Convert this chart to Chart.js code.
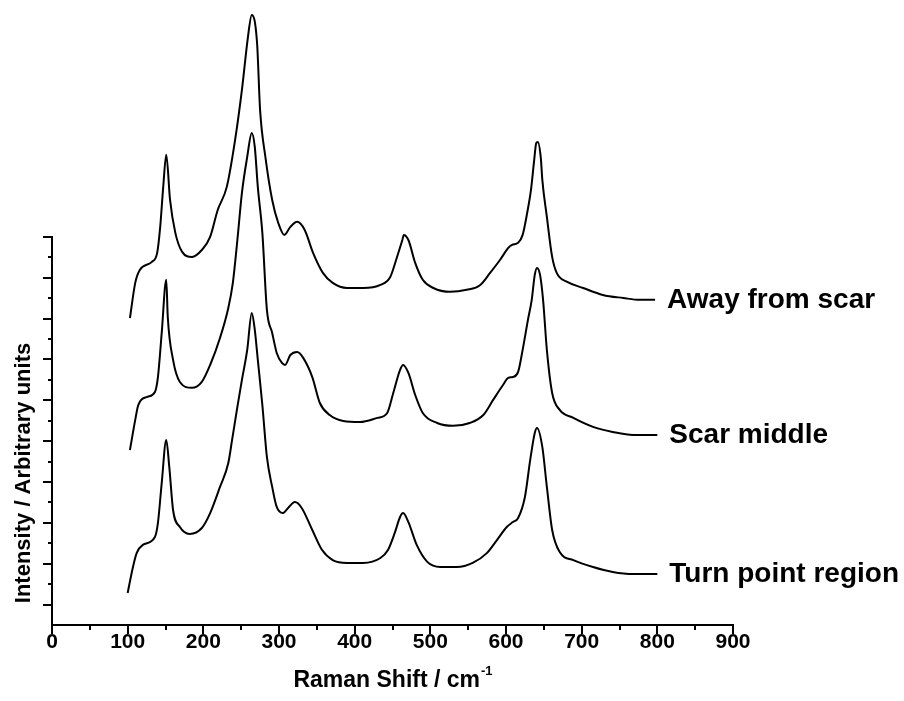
<!DOCTYPE html>
<html>
<head>
<meta charset="utf-8">
<script src="https://cdn.jsdelivr.net/npm/chart.js@4.4.1/dist/chart.umd.min.js"></script>
<style>
  html, body { margin: 0; padding: 0; background: #fff; }
  #wrap { width: 904px; height: 701px; }
</style>
</head>
<body>
<div id="wrap"><canvas id="c" width="904" height="701"></canvas></div>
<script>
// Raman shift (cm-1) and intensity (arbitrary units, stacked) for each spectrum
const awayX = [103,110,116,132,139,143,147,151,156,163,172,185,198,209,219,231,242,251,259,264,271,275,282,291,299,307,315,324,334,345,358,371,390,411,434,447,456,463,465,471,480,490,504,526,548,566,579,592,603,608,616,622,628,633,637,640,642,646,648,654,661,667,681,702,728,755,777,797];
const awayY = [15.03,16.75,17.38,17.78,18.22,19.49,21.45,23.02,20.81,19.20,18.27,18.02,18.36,19.00,20.32,21.45,23.75,26.20,28.80,29.87,28.50,25.22,22.92,20.81,19.69,19.10,19.49,19.74,19.34,18.22,17.24,16.75,16.50,16.50,16.65,17.04,18.02,18.85,19.10,18.85,17.73,16.90,16.50,16.31,16.41,16.65,17.24,17.87,18.46,18.61,18.71,19.10,20.18,21.30,22.67,23.60,23.65,22.87,21.79,19.98,18.02,17.24,16.80,16.50,16.16,16.01,15.92,15.92];

const middleX = [103,110,114,126,136,140,145,151,153,160,169,185,198,209,222,233,239,245,251,258,264,268,272,278,284,291,297,304,308,315,324,332,344,354,367,385,407,430,443,451,460,464,471,480,490,509,530,552,570,583,596,603,609,616,622,629,634,638,641,645,649,654,661,671,689,715,741,768,800];
const middleY = [8.57,10.04,10.77,11.17,11.41,12.14,14.30,16.90,15.08,12.98,11.90,11.61,11.90,12.73,14.05,15.52,16.75,18.85,21.16,22.92,24.09,23.41,21.45,19.20,15.43,14.30,13.32,12.83,12.73,13.22,13.37,13.08,12.14,10.87,10.28,9.99,9.94,10.14,10.38,11.36,12.49,12.73,12.34,11.26,10.38,9.89,9.75,9.89,10.28,11.02,11.75,12.10,12.14,12.39,13.47,14.94,15.92,17.14,17.48,17.14,15.92,13.47,11.36,10.53,10.14,9.70,9.45,9.30,9.30];

const turnX = [100,107,112,120,136,140,145,151,155,160,169,182,198,209,222,233,238,245,251,258,264,268,272,278,284,291,297,305,312,321,330,344,357,371,390,411,434,444,453,460,464,471,482,496,513,535,556,575,588,601,609,616,625,632,638,641,648,654,661,671,689,715,741,768,800];
const turnY = [1.57,2.84,3.53,3.92,4.31,5.00,6.95,9.06,7.74,5.63,4.80,4.46,4.75,5.48,6.76,7.93,9.06,10.68,12.00,13.47,15.28,14.45,12.98,10.77,8.23,6.76,5.78,5.48,5.73,6.02,5.73,4.65,3.67,3.18,3.04,3.04,3.28,3.67,4.51,5.29,5.48,5.04,3.92,3.09,2.84,2.84,3.04,3.53,4.16,4.80,5.04,5.24,6.27,8.08,9.40,9.65,8.72,6.76,4.65,3.57,3.18,2.84,2.60,2.50,2.50];

const seriesNames = ['Away from scar', 'Scar middle', 'Turn point region'];
const xTickValues = [0, 100, 200, 300, 400, 500, 600, 700, 800, 900];
const xMinorTicks = [50, 150, 250, 350, 450, 550, 650, 750, 850];
const yTickValues = [0,1,2,3,4,5,6,7,8,9,10,11,12,13,14,15,16,17,18,19];
const xTitle = 'Raman Shift / cm';
const xTitleSup = '-1';
const yTitle = 'Intensity / Arbitrary units';

const FONT = '"Liberation Sans", Arial, Helvetica, sans-serif';

function pairs(xs, ys) { return xs.map((v, i) => ({ x: v, y: ys[i] })); }

// Axis line, tick marks, axis titles and the series names at the end of each trace
const spectraFrame = {
  id: 'spectraFrame',
  afterDraw(chart) {
    const { ctx, scales: { x, y } } = chart;
    const x0 = x.getPixelForValue(0);
    const yBottom = y.getPixelForValue(0);
    ctx.save();
    ctx.strokeStyle = '#000';
    ctx.lineWidth = 2;
    ctx.beginPath();
    ctx.moveTo(x0, yBottom + 1);
    ctx.lineTo(x0, y.getPixelForValue(yTickValues[yTickValues.length - 1]) - 1);
    yTickValues.forEach(v => {
      if (v === 0) return;
      const py = Math.round(y.getPixelForValue(v));
      const len = v % 2 ? 9 : 4;
      ctx.moveTo(x0 - len, py);
      ctx.lineTo(x0, py);
    });
    xMinorTicks.forEach(v => {
      const px = Math.round(x.getPixelForValue(v));
      ctx.moveTo(px, yBottom);
      ctx.lineTo(px, yBottom + 5);
    });
    ctx.stroke();

    ctx.fillStyle = '#000';
    // x-axis title with superscript
    ctx.font = 'bold 23px ' + FONT;
    const mainW = ctx.measureText(xTitle).width;
    ctx.font = 'bold 13px ' + FONT;
    const supW = ctx.measureText(xTitleSup).width;
    const cx = (x.left + x.right) / 2;
    const startX = cx - (mainW + supW) / 2;
    ctx.textBaseline = 'alphabetic';
    ctx.textAlign = 'left';
    ctx.font = 'bold 23px ' + FONT;
    ctx.fillText(xTitle, startX, 687);
    ctx.font = 'bold 13px ' + FONT;
    ctx.fillText(xTitleSup, startX + mainW + 1, 675);

    // y-axis title
    ctx.save();
    ctx.translate(24, 473);
    ctx.rotate(-Math.PI / 2);
    ctx.font = 'bold 22px ' + FONT;
    ctx.textAlign = 'center';
    ctx.textBaseline = 'middle';
    ctx.fillText(yTitle, 0, 0);
    ctx.restore();

    // series names beside the last point of each trace
    ctx.font = 'bold 28px ' + FONT;
    ctx.textAlign = 'left';
    ctx.textBaseline = 'middle';
    chart.data.datasets.forEach((ds, i) => {
      const pts = chart.getDatasetMeta(i).data;
      const last = pts[pts.length - 1];
      ctx.fillText(seriesNames[i], last.x + 12, last.y);
    });
    ctx.restore();
  }
};

const lineStyle = {
  borderColor: '#000',
  borderWidth: 2,
  pointRadius: 0,
  fill: false,
  cubicInterpolationMode: 'monotone'
};

new Chart(document.getElementById('c'), {
  type: 'line',
  data: {
    datasets: [
      { label: seriesNames[0], data: pairs(awayX, awayY), ...lineStyle },
      { label: seriesNames[1], data: pairs(middleX, middleY), ...lineStyle },
      { label: seriesNames[2], data: pairs(turnX, turnY), ...lineStyle }
    ]
  },
  options: {
    responsive: false,
    animation: false,
    events: [],
    layout: { padding: { left: 52, right: 171, top: 0, bottom: 0 } },
    plugins: { legend: { display: false }, tooltip: { enabled: false } },
    scales: {
      x: {
        type: 'linear',
        min: 0,
        max: 900,
        afterBuildTicks: s => { s.ticks = xTickValues.map(v => ({ value: v })); },
        afterFit: s => { s.height = 76; },
        border: { display: true, color: '#000', width: 2 },
        grid: { drawOnChartArea: false, drawTicks: true, tickLength: 9, color: '#000', lineWidth: 2 },
        ticks: {
          color: '#000',
          padding: -2,
          maxRotation: 0,
          autoSkip: false,
          font: { family: FONT, size: 21, weight: 'bold', lineHeight: 1 }
        }
      },
      y: {
        type: 'linear',
        display: false,
        min: 0,
        max: 30.6
      }
    }
  },
  plugins: [spectraFrame]
});
</script>
</body>
</html>
